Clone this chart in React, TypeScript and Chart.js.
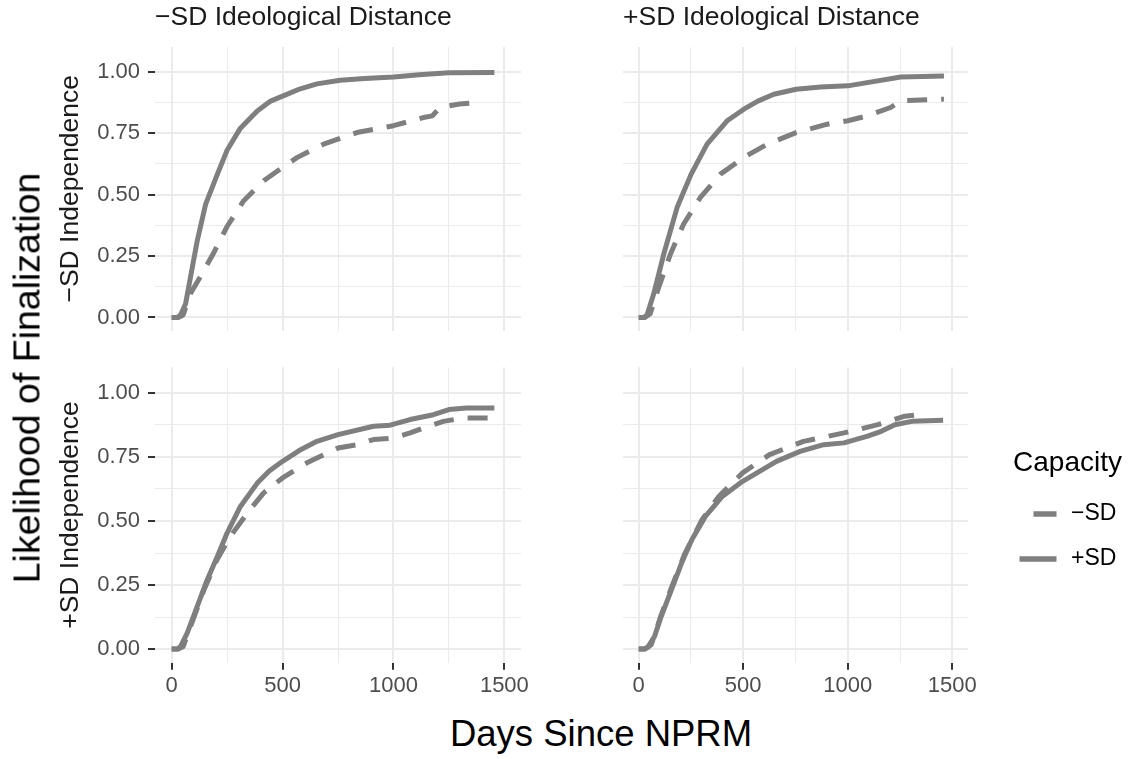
import React, { useEffect, useRef } from 'react';
import { Chart, registerables } from 'chart.js';

Chart.register(...registerables);

const FONT = '"Liberation Sans", Arial, Helvetica, sans-serif';
Chart.defaults.font.family = FONT;

// ---------- axes / labels ----------
const X_MAJOR_TICKS = [0, 500, 1000, 1500];
const X_MINOR_TICKS = [250, 750, 1250];
const Y_MAJOR_TICKS = [0, 0.25, 0.5, 0.75, 1];
const Y_MINOR_TICKS = [0.125, 0.375, 0.625, 0.875];
const X_LIMITS = [-75, 1575];
const Y_LIMITS = [-0.053, 1.1];

const COLUMN_LABELS = ['−SD Ideological Distance', '+SD Ideological Distance'];
const ROW_LABELS = ['−SD Independence', '+SD Independence'];
const CAPACITY_LEVELS = ['−SD', '+SD'];
const LEGEND_TITLE = 'Capacity';
const X_TITLE = 'Days Since NPRM';
const Y_TITLE = 'Likelihood of Finalization';

// ---------- data (days since NPRM, likelihood) ----------
// top-left: −SD independence, −SD ideological distance
const TL_MINUS_DAYS = [0, 30, 52, 85, 128, 188, 250, 325, 415, 500, 565, 685, 835, 1000, 1135, 1175, 1210, 1297, 1390];
const TL_MINUS_PROB = [0, 0, 0.01, 0.097, 0.164, 0.26, 0.37, 0.475, 0.556, 0.61, 0.65, 0.705, 0.752, 0.78, 0.813, 0.82, 0.854, 0.868, 0.875];
const TL_PLUS_DAYS = [0, 25, 40, 63, 85, 115, 153, 205, 250, 310, 386, 446, 500, 580, 655, 760, 870, 1000, 1130, 1250, 1455];
const TL_PLUS_PROB = [0, 0, 0.01, 0.056, 0.164, 0.31, 0.46, 0.58, 0.68, 0.77, 0.84, 0.88, 0.9, 0.93, 0.95, 0.965, 0.972, 0.978, 0.988, 0.995, 0.996];

// top-right: −SD independence, +SD ideological distance
const TR_MINUS_DAYS = [0, 30, 55, 96, 152, 215, 295, 391, 503, 615, 753, 902, 1000, 1093, 1205, 1253, 1460];
const TR_MINUS_PROB = [0, 0, 0.015, 0.123, 0.258, 0.38, 0.488, 0.583, 0.651, 0.705, 0.752, 0.786, 0.8, 0.82, 0.854, 0.881, 0.888];
const TR_PLUS_DAYS = [0, 25, 40, 72, 120, 184, 251, 327, 423, 503, 570, 646, 753, 870, 1000, 1093, 1253, 1460];
const TR_PLUS_PROB = [0, 0, 0.01, 0.096, 0.258, 0.448, 0.583, 0.705, 0.8, 0.847, 0.88, 0.908, 0.928, 0.937, 0.942, 0.955, 0.978, 0.982];

// bottom-left: +SD independence, −SD ideological distance
const BL_MINUS_DAYS = [0, 30, 52, 85, 145, 205, 265, 340, 415, 500, 610, 750, 835, 910, 1000, 1075, 1135, 1225, 1315, 1455];
const BL_MINUS_PROB = [0, 0, 0.01, 0.088, 0.23, 0.35, 0.44, 0.53, 0.61, 0.668, 0.727, 0.785, 0.798, 0.818, 0.824, 0.844, 0.863, 0.889, 0.902, 0.902];
const BL_PLUS_DAYS = [0, 25, 40, 70, 115, 160, 205, 250, 310, 386, 440, 500, 575, 655, 750, 910, 985, 1075, 1180, 1250, 1330, 1455];
const BL_PLUS_PROB = [0, 0, 0.01, 0.062, 0.166, 0.27, 0.36, 0.453, 0.557, 0.648, 0.695, 0.733, 0.775, 0.811, 0.837, 0.87, 0.874, 0.896, 0.915, 0.935, 0.941, 0.941];

// bottom-right: +SD independence, +SD ideological distance
const BR_MINUS_DAYS = [0, 30, 60, 108, 165, 222, 303, 383, 497, 626, 788, 982, 1144, 1273, 1380];
const BR_MINUS_PROB = [0, 0, 0.017, 0.134, 0.258, 0.375, 0.505, 0.596, 0.688, 0.759, 0.811, 0.844, 0.876, 0.909, 0.919];
const BR_PLUS_DAYS = [0, 25, 44, 76, 108, 157, 205, 254, 319, 400, 497, 578, 659, 772, 885, 982, 1095, 1160, 1225, 1306, 1456];
const BR_PLUS_PROB = [0, 0, 0.008, 0.05, 0.128, 0.232, 0.336, 0.427, 0.518, 0.596, 0.655, 0.694, 0.733, 0.772, 0.798, 0.805, 0.831, 0.85, 0.876, 0.889, 0.893];

// ---------- styles ----------
const LINE_COLOR = '#7F7F7F';
const GRID_COLOR = '#EBEBEB';
const TICK_COLOR = '#333333';
const TICK_LABEL_COLOR = '#4D4D4D';
const STRIP_COLOR = '#1A1A1A';

type Series = { days: number[]; prob: number[] };
type PanelSpec = { row: number; col: number; minus: Series; plus: Series };

const PANELS: PanelSpec[] = [
  { row: 0, col: 0, minus: { days: TL_MINUS_DAYS, prob: TL_MINUS_PROB }, plus: { days: TL_PLUS_DAYS, prob: TL_PLUS_PROB } },
  { row: 0, col: 1, minus: { days: TR_MINUS_DAYS, prob: TR_MINUS_PROB }, plus: { days: TR_PLUS_DAYS, prob: TR_PLUS_PROB } },
  { row: 1, col: 0, minus: { days: BL_MINUS_DAYS, prob: BL_MINUS_PROB }, plus: { days: BL_PLUS_DAYS, prob: BL_PLUS_PROB } },
  { row: 1, col: 1, minus: { days: BR_MINUS_DAYS, prob: BR_MINUS_PROB }, plus: { days: BR_PLUS_DAYS, prob: BR_PLUS_PROB } },
];

const isIn = (v: number, arr: number[]) => arr.some((a) => Math.abs(a - v) < 1e-9);

// geometry of canvases
const COL_GEOM = [
  { left: 0, width: 540, yAxisWidth: 155, padRight: 19 },
  { left: 623, width: 357, yAxisWidth: 0, padRight: 12 },
];
const ROW_GEOM = [
  { top: 0, height: 331, padTop: 0, padBottom: 0.5, xAxisHeight: 0 },
  { top: 360, height: 343, padTop: 7.3, padBottom: 0.3, xAxisHeight: 40 },
];

function toPoints(s: Series) {
  return s.days.map((d, i) => ({ x: d, y: s.prob[i] }));
}

function panelConfig(p: PanelSpec): any {
  const cg = COL_GEOM[p.col];
  const rg = ROW_GEOM[p.row];
  const isLeft = p.col === 0;
  const isBottom = p.row === 1;
  const isTop = p.row === 0;
  const xTicksAll = [...X_MAJOR_TICKS, ...X_MINOR_TICKS].sort((a, b) => a - b);
  const yTicksAll = [...Y_MAJOR_TICKS, ...Y_MINOR_TICKS].sort((a, b) => a - b);
  return {
    type: 'line',
    data: {
      datasets: [
        {
          label: CAPACITY_LEVELS[0],
          data: toPoints(p.minus),
          borderColor: LINE_COLOR,
          borderWidth: 5,
          borderDash: [20, 14],
          borderCapStyle: 'butt',
          borderJoinStyle: 'round',
          pointRadius: 0,
          pointHoverRadius: 0,
          tension: 0,
          fill: false,
          order: 1,
        },
        {
          label: CAPACITY_LEVELS[1],
          data: toPoints(p.plus),
          borderColor: LINE_COLOR,
          borderWidth: 5,
          borderCapStyle: 'butt',
          borderJoinStyle: 'round',
          pointRadius: 0,
          pointHoverRadius: 0,
          tension: 0,
          fill: false,
          order: 0,
        },
      ],
    },
    options: {
      animation: false,
      responsive: false,
      maintainAspectRatio: false,
      events: [],
      layout: { padding: { top: rg.padTop, bottom: rg.padBottom, left: 0, right: cg.padRight } },
      plugins: {
        legend: { display: false },
        tooltip: { enabled: false },
        title: {
          display: isTop,
          text: COLUMN_LABELS[p.col],
          align: 'start',
          fullSize: false,
          color: STRIP_COLOR,
          font: { size: 26.5, weight: 'normal', lineHeight: 1.2 },
          padding: { top: 1.6, bottom: 13.6 },
        },
      },
      scales: {
        x: {
          type: 'linear',
          min: X_LIMITS[0],
          max: X_LIMITS[1],
          afterBuildTicks: (s: any) => {
            s.ticks = xTicksAll.map((v) => ({ value: v }));
          },
          afterFit: (s: any) => {
            s.height = rg.xAxisHeight;
            s.paddingLeft = 0;
            s.paddingRight = 0;
            s.paddingTop = 0;
            s.paddingBottom = 0;
          },
          border: { display: false },
          grid: {
            color: GRID_COLOR,
            lineWidth: (c: any) => (isIn(c.tick.value, X_MAJOR_TICKS) ? 2 : 1),
            drawTicks: isBottom,
            tickLength: 7,
            tickWidth: 2,
            tickColor: (c: any) => (isIn(c.tick.value, X_MAJOR_TICKS) ? TICK_COLOR : 'rgba(0,0,0,0)'),
          },
          ticks: {
            display: isBottom,
            autoSkip: false,
            maxRotation: 0,
            padding: 3.1,
            color: TICK_LABEL_COLOR,
            font: { size: 22 },
            callback: (v: number) => (isIn(v, X_MAJOR_TICKS) ? String(v) : ''),
          },
        },
        y: {
          type: 'linear',
          min: Y_LIMITS[0],
          max: Y_LIMITS[1],
          afterBuildTicks: (s: any) => {
            s.ticks = yTicksAll.map((v) => ({ value: v }));
          },
          afterFit: (s: any) => {
            s.width = cg.yAxisWidth;
            s.paddingLeft = 0;
            s.paddingRight = 0;
            s.paddingTop = 0;
            s.paddingBottom = 0;
          },
          border: { display: false },
          title: {
            display: isLeft,
            text: ROW_LABELS[p.row],
            color: STRIP_COLOR,
            font: { size: 26.5, lineHeight: 1.2 },
            padding: { top: 55.1, bottom: 0 },
          },
          grid: {
            color: GRID_COLOR,
            lineWidth: (c: any) => (isIn(c.tick.value, Y_MAJOR_TICKS) ? 2 : 1),
            drawTicks: isLeft,
            tickLength: 7,
            tickWidth: 2,
            tickColor: (c: any) => (isIn(c.tick.value, Y_MAJOR_TICKS) ? TICK_COLOR : 'rgba(0,0,0,0)'),
          },
          ticks: {
            display: isLeft,
            autoSkip: false,
            padding: 8,
            color: TICK_LABEL_COLOR,
            font: { size: 22 },
            callback: (v: number) => (isIn(v, Y_MAJOR_TICKS) ? v.toFixed(2) : ''),
          },
        },
      },
    },
  };
}

function legendConfig(): any {
  return {
    type: 'line',
    data: {
      labels: [],
      datasets: [
        { label: CAPACITY_LEVELS[0], data: [] },
        { label: CAPACITY_LEVELS[1], data: [] },
      ],
    },
    options: {
      animation: false,
      responsive: false,
      maintainAspectRatio: false,
      events: [],
      layout: { padding: 0 },
      scales: { x: { display: false }, y: { display: false } },
      plugins: {
        tooltip: { enabled: false },
        title: { display: false },
        legend: {
          display: true,
          position: 'left',
          align: 'start',
          maxWidth: 132,
          title: {
            display: true,
            text: LEGEND_TITLE,
            position: 'end',
            color: '#000000',
            font: { size: 28, lineHeight: 1.05 },
            padding: { top: 0, bottom: 2.1 },
          },
          labels: {
            usePointStyle: true,
            pointStyleWidth: 47.5,
            padding: 22,
            color: '#000000',
            font: { size: 23 },
            generateLabels: () => [
              {
                text: CAPACITY_LEVELS[0],
                fillStyle: 'rgba(0,0,0,0)',
                strokeStyle: LINE_COLOR,
                fontColor: '#000000',
                lineWidth: 5.5,
                lineDash: [0, 21.5, 23, 100],
                lineCap: 'butt',
                pointStyle: 'line',
                hidden: false,
                datasetIndex: 0,
              },
              {
                text: CAPACITY_LEVELS[1],
                fillStyle: 'rgba(0,0,0,0)',
                strokeStyle: LINE_COLOR,
                fontColor: '#000000',
                lineWidth: 5.5,
                lineDash: [0, 7.5, 37, 100],
                lineCap: 'butt',
                pointStyle: 'line',
                hidden: false,
                datasetIndex: 1,
              },
            ],
          },
        },
      },
    },
  };
}

function ChartCanvas(props: { left: number; top: number; width: number; height: number; make: () => any }) {
  const ref = useRef<HTMLCanvasElement>(null);
  useEffect(() => {
    if (!ref.current) return;
    const chart = new Chart(ref.current, props.make());
    return () => chart.destroy();
  }, []);
  return (
    <canvas
      ref={ref}
      width={props.width}
      height={props.height}
      style={{ position: 'absolute', left: props.left, top: props.top, width: props.width, height: props.height }}
    />
  );
}

export default function App() {
  return (
    <div
      style={{
        position: 'fixed',
        left: 0,
        top: 0,
        width: 1132,
        height: 759,
        background: '#ffffff',
        overflow: 'hidden',
        fontFamily: FONT,
      }}
    >
      {PANELS.map((p) => (
        <ChartCanvas
          key={`${p.row}-${p.col}`}
          left={COL_GEOM[p.col].left}
          top={ROW_GEOM[p.row].top}
          width={COL_GEOM[p.col].width}
          height={ROW_GEOM[p.row].height}
          make={() => panelConfig(p)}
        />
      ))}
      <ChartCanvas left={990} top={449} width={300} height={240} make={legendConfig} />
      <div
        style={{
          position: 'absolute',
          left: 27,
          top: 377.5,
          transform: 'translate(-50%, -50%) rotate(-90deg)',
          whiteSpace: 'nowrap',
          fontSize: 37.5,
          lineHeight: 'normal',
          color: '#000000',
        }}
      >
        {Y_TITLE}
      </div>
      <div
        style={{
          position: 'absolute',
          left: 601,
          top: 734,
          transform: 'translate(-50%, -50%)',
          whiteSpace: 'nowrap',
          fontSize: 36.5,
          lineHeight: 'normal',
          color: '#000000',
        }}
      >
        {X_TITLE}
      </div>
    </div>
  );
}
